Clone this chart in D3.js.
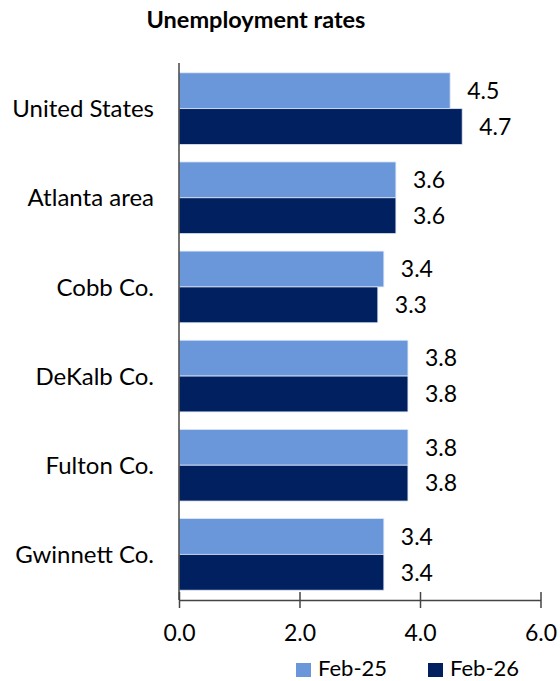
<!DOCTYPE html>
<html>
<head>
<meta charset="utf-8">
<script src="https://cdn.jsdelivr.net/npm/d3@7"></script>
<style>
  html, body { margin: 0; padding: 0; background: #fff; }
  svg { display: block; font-family: Lato, "Open Sans", sans-serif; }
</style>
</head>
<body>
<svg id="chart" width="560" height="681"></svg>
<script>
const categories = ["United States", "Atlanta area", "Cobb Co.", "DeKalb Co.", "Fulton Co.", "Gwinnett Co."];
const seriesNames = ["Feb-25", "Feb-26"];
const feb25 = [4.5, 3.6, 3.4, 3.8, 3.8, 3.4];
const feb26 = [4.7, 3.6, 3.3, 3.8, 3.8, 3.4];
const xTicks = [0, 2, 4, 6];
const colors = ["#6A96DA", "#00205F"];
const title = "Unemployment rates";

const svg = d3.select("#chart");
const margin = { left: 179, top: 63 };
const x = d3.scaleLinear().domain([0, 6]).range([margin.left, 540.5]);
const y = d3.scaleBand().domain(categories).range([margin.top, 600])
  .paddingInner(0.196).paddingOuter(0.11);
const ySub = d3.scaleBand().domain(seriesNames).range([0, y.bandwidth()]);

const series = [feb25, feb26];

// title
svg.append("text").attr("x", 256).attr("y", 20).attr("dy", "0.36em").attr("text-anchor", "middle")
  .attr("font-weight", "bold").attr("font-size", 23.5).attr("fill", "#000").text(title);

// bars
categories.forEach((c, i) => {
  series.forEach((vals, s) => {
    const v = vals[i];
    const by = y(c) + ySub(seriesNames[s]);
    svg.append("rect")
      .attr("x", x(0)).attr("y", by)
      .attr("width", x(v) - x(0)).attr("height", ySub.bandwidth())
      .attr("fill", colors[s]).attr("stroke", "#dfe8f7").attr("stroke-width", 0.8);
    svg.append("text")
      .attr("x", x(v) + 17).attr("y", by + ySub.bandwidth() / 2)
      .attr("dy", "0.36em").attr("font-size", 23).attr("fill", "#000")
      .text(d3.format(".1f")(v));
  });
});

// y axis line & labels
svg.append("line").attr("x1", x(0)).attr("x2", x(0)).attr("y1", margin.top).attr("y2", 600)
  .attr("stroke", "#444").attr("stroke-width", 1.5);
categories.forEach(c => {
  svg.append("text").attr("x", 154).attr("y", y(c) + y.bandwidth() / 2)
    .attr("dy", "0.36em").attr("text-anchor", "end").attr("font-size", 24).attr("fill", "#000").text(c);
});

// x axis
const xAxis = d3.axisBottom(x).tickValues(xTicks).tickFormat(d3.format(".1f")).tickSize(8).tickSizeOuter(0);
const gx = svg.append("g").attr("transform", "translate(0,600)").call(xAxis);
gx.select(".domain").attr("stroke", "#444").attr("stroke-width", 1.5);
gx.selectAll(".tick line").attr("y1", -8).attr("y2", 8).attr("stroke", "#444").attr("stroke-width", 1.5);
gx.selectAll(".tick text").attr("y", 33).attr("dy", "0.36em").attr("font-size", 23)
  .attr("font-family", "Lato, sans-serif").attr("fill", "#000");

// legend
const legend = svg.append("g");
const lx = [296, 428];
seriesNames.forEach((n, i) => {
  legend.append("rect").attr("x", lx[i]).attr("y", 663).attr("width", 15).attr("height", 14).attr("fill", colors[i]);
  legend.append("text").attr("x", lx[i] + 22).attr("y", 668).attr("dy", "0.36em")
    .attr("font-size", 22).attr("fill", "#000").text(n);
});
</script>
</body>
</html>
